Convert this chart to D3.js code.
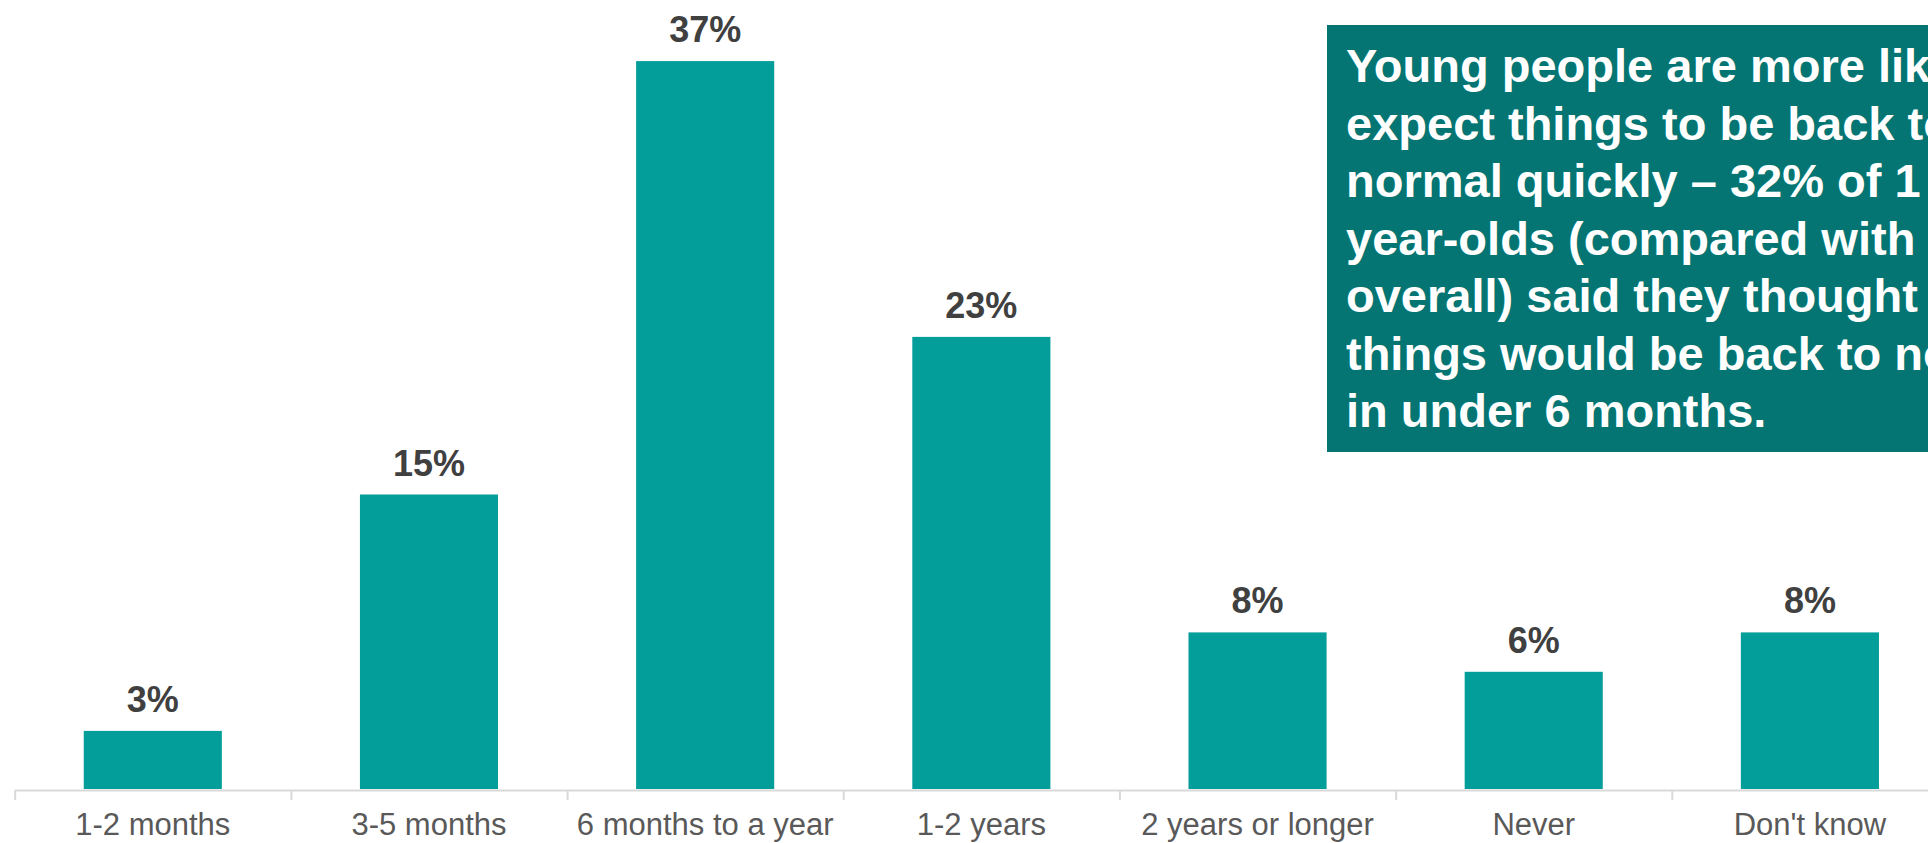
<!DOCTYPE html>
<html>
<head>
<meta charset="utf-8">
<script src="https://cdn.jsdelivr.net/npm/d3@7"></script>
<style>
  html, body { margin: 0; padding: 0; background: #fff; overflow: hidden; }
  svg { display: block; font-family: "Liberation Sans", Arial, sans-serif; }
</style>
</head>
<body>
<div id="viz"></div>
<script>
// chart data
const categories = ['1-2 months', '3-5 months', '6 months to a year', '1-2 years', '2 years or longer', 'Never', "Don't know"];
const values = [3, 15, 37, 23, 8, 6, 8];
const valueLabels = ['3%', '15%', '37%', '23%', '8%', '6%', '8%'];
const noteLines = [
    'Young people are more likely to',
    'expect things to be back to',
    'normal quickly \u2013 32% of 1',
    'year-olds (compared with',
    'overall) said they thought',
    'things would be back to normal',
    'in under 6 months.'
];

const width = 1928;
const height = 843;
const axisY = 790;

const svg = d3.select('#viz')
    .append('svg')
    .attr('width', width)
    .attr('height', height);

// plot runs past the right edge, as in the original slide
const x = d3.scaleBand()
    .domain(categories)
    .range([14.7, 1948])
    .paddingInner(0.5)
    .paddingOuter(0.25);

const y = d3.scaleLinear()
    .domain([0, 40])
    .range([axisY, axisY - 40 * 19.7]);

// boundary ticks between categories
const xEdges = d3.scaleLinear()
    .domain([0, categories.length])
    .range([14.7, 1948]);

const edgeAxis = svg.append('g')
    .attr('transform', `translate(0,${axisY})`)
    .call(d3.axisBottom(xEdges).ticks(categories.length).tickFormat('').tickSize(10).tickSizeOuter(0));
edgeAxis.select('.domain').attr('stroke', '#d9d9d9').attr('stroke-width', 2);
edgeAxis.selectAll('.tick line').attr('stroke', '#d9d9d9').attr('stroke-width', 2);

// bars
svg.selectAll('.bar')
    .data(values)
    .enter()
    .append('rect')
    .attr('class', 'bar')
    .attr('x', (d, i) => x(categories[i]))
    .attr('y', d => y(d))
    .attr('width', x.bandwidth())
    .attr('height', d => y(0) - y(d) - 1)
    .attr('fill', '#039d9a');

// value labels
svg.selectAll('.label')
    .data(values)
    .enter()
    .append('text')
    .attr('class', 'label')
    .attr('x', (d, i) => x(categories[i]) + x.bandwidth() / 2)
    .attr('y', d => y(d) - 19)
    .attr('text-anchor', 'middle')
    .attr('fill', '#404040')
    .style('font-size', '36px')
    .style('font-weight', 'bold')
    .text((d, i) => valueLabels[i]);

// category labels
const catAxis = svg.append('g')
    .attr('transform', `translate(0,${axisY})`)
    .call(d3.axisBottom(x).tickSize(0));
catAxis.select('.domain').remove();
catAxis.selectAll('text')
    .attr('y', 45)
    .attr('dy', 0)
    .attr('fill', '#595959')
    .style('font-size', '31px')
    .style('font-family', '"Liberation Sans", Arial, sans-serif');

// callout box
const note = svg.append('g');
note.append('rect')
    .attr('x', 1327)
    .attr('y', 25)
    .attr('width', 700)
    .attr('height', 427)
    .attr('fill', '#047572');

note.selectAll('text')
    .data(noteLines)
    .enter()
    .append('text')
    .attr('x', 1346)
    .attr('y', (d, i) => 82 + i * 57.5)
    .attr('fill', '#ffffff')
    .style('font-size', '47px')
    .style('font-weight', 'bold')
    .text(d => d);
</script>
</body>
</html>
